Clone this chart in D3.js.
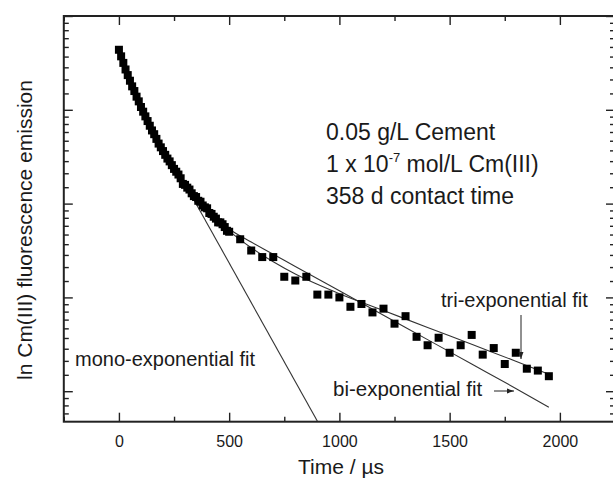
<!DOCTYPE html>
<html>
<head>
<meta charset="utf-8">
<script src="https://cdn.jsdelivr.net/npm/d3@7"></script>
<style>
  html, body { margin: 0; padding: 0; background: #fff; }
  svg { display: block; }
  text { font-family: "Liberation Sans", Arial, Helvetica, sans-serif; fill: #1a1a1a; }
</style>
</head>
<body>
<svg id="chart" width="613" height="479"></svg>
<script>
// Measured decay: time in microseconds, ln of Cm(III) fluorescence intensity
const timeDense = [0,10,20,30,40,50,60,70,80,90,100,110,120,130,140,150,160,170,180,190,
  200,210,220,230,240,250,260,270,280,290,300,310,320,330,340,350,360,370,380,390,
  400,410,420,430,440,450,460,470,480,490,500];
const lnDense = [5.64,5.57,5.50,5.43,5.37,5.31,5.25,5.20,5.14,5.09,5.03,4.98,4.93,4.88,4.83,4.78,4.74,4.69,4.64,4.60,
  4.56,4.52,4.48,4.45,4.41,4.37,4.34,4.31,4.27,4.21,4.20,4.17,4.15,4.11,4.08,4.07,4.03,4.02,3.98,3.96,
  3.95,3.90,3.89,3.86,3.84,3.80,3.80,3.78,3.75,3.71,3.70];
const timeSparse = [550,600,650,700,750,800,850,900,950,1000,1050,1100,1150,1200,1250,1300,1350,
  1400,1450,1500,1550,1600,1650,1700,1750,1800,1850,1900,1950];
const lnSparse = [3.62,3.50,3.43,3.43,3.22,3.18,3.22,3.03,3.03,3.00,2.90,2.93,2.84,2.88,2.72,2.80,2.58,
  2.49,2.57,2.41,2.49,2.60,2.39,2.46,2.29,2.41,2.24,2.22,2.16];

// Fit curves
const monoTime = [300, 905];
const monoLn = [4.21, 1.66];
const biTime = [0,100,200,300,400,500,600,700,800,1000,1200,1400,1600,1800,1950];
const biLn = [5.62,5.02,4.56,4.20,3.93,3.73,3.59,3.46,3.33,3.07,2.81,2.55,2.29,2.03,1.83];
const triTime = [0,100,200,300,400,500,600,700,800,900,1000,1200,1400,1600,1800,1950];
const triLn = [5.63,5.03,4.56,4.20,3.94,3.71,3.53,3.38,3.25,3.14,3.04,2.86,2.68,2.50,2.32,2.18];

// Axis ticks
const xMajor = [0, 500, 1000, 1500, 2000];
const xMinor = [-250, 250, 750, 1250, 1750, 2250];
const xLabels = ["0", "500", "1000", "1500", "2000"];
const lnMajor = [2, 3, 4, 5, 6];

const svg = d3.select("#chart");
const plotL = 63.8, plotR = 615, plotT = 16, plotB = 421.7;

const x = d3.scaleLinear().domain([-250, 2250]).range([plotL, plotR]);
const y = d3.scaleLinear().domain([1.675, 6]).range([plotB, plotT]);

// ln-axis minor ticks: 8 evenly spaced intensity steps between e^n and e^(n+1)
const lnMinor = [];
for (let n = 1; n < 6; n++) {
  const a = Math.exp(n), b = Math.exp(n + 1);
  for (let k = 1; k <= 8; k++) {
    const v = Math.log(a + k * (b - a) / 9);
    if (v >= y.domain()[0] && v <= y.domain()[1]) lnMinor.push(v);
  }
}

const defs = svg.append("defs");
defs.append("clipPath").attr("id", "plotClip")
  .append("rect").attr("x", plotL).attr("y", plotT).attr("width", plotR - plotL).attr("height", plotB - plotT);

const plot = svg.append("g").attr("clip-path", "url(#plotClip)");

const line = d3.line().x(d => x(d[0])).y(d => y(d[1])).curve(d3.curveMonotoneX);
function pairs(ts, vs) { return ts.map((t, i) => [t, vs[i]]); }

[[monoTime, monoLn], [biTime, biLn], [triTime, triLn]].forEach(([ts, vs]) => {
  plot.append("path").datum(pairs(ts, vs))
    .attr("d", line).attr("fill", "none").attr("stroke", "#333").attr("stroke-width", 1.1);
});

const pts = pairs(timeDense, lnDense).concat(pairs(timeSparse, lnSparse));
const s = 8;
plot.selectAll("rect.pt").data(pts).enter().append("rect")
  .attr("class", "pt")
  .attr("x", d => x(d[0]) - s / 2).attr("y", d => y(d[1]) - s / 2)
  .attr("width", s).attr("height", s).attr("fill", "#000");

// Axes with inward ticks on all four sides
function styleAxis(g) {
  g.select(".domain").remove();
  g.selectAll(".tick line").attr("stroke", "#222").attr("stroke-width", 1.4);
}
const axes = svg.append("g");
axes.append("g").attr("transform", `translate(0,${plotB})`)
  .call(d3.axisBottom(x).tickValues(xMajor).tickSize(-9).tickPadding(14).tickFormat((d, i) => xLabels[i]))
  .call(styleAxis)
  .call(g => g.selectAll("text").attr("font-size", 16).attr("fill", "#1a1a1a")
     .style("font-family", '"Liberation Sans", Arial, sans-serif'));
axes.append("g").attr("transform", `translate(0,${plotB})`)
  .call(d3.axisBottom(x).tickValues(xMinor).tickSize(-5).tickFormat(""))
  .call(styleAxis);
axes.append("g").attr("transform", `translate(0,${plotT})`)
  .call(d3.axisTop(x).tickValues(xMajor).tickSize(-9).tickFormat(""))
  .call(styleAxis);
axes.append("g").attr("transform", `translate(0,${plotT})`)
  .call(d3.axisTop(x).tickValues(xMinor).tickSize(-5).tickFormat(""))
  .call(styleAxis);
axes.append("g").attr("transform", `translate(${plotL},0)`)
  .call(d3.axisLeft(y).tickValues(lnMajor).tickSize(-9).tickFormat(""))
  .call(styleAxis);
axes.append("g").attr("transform", `translate(${plotL},0)`)
  .call(d3.axisLeft(y).tickValues(lnMinor).tickSize(-5).tickFormat(""))
  .call(styleAxis);
axes.append("g").attr("transform", `translate(${plotR},0)`)
  .call(d3.axisRight(y).tickValues(lnMajor).tickSize(-9).tickFormat(""))
  .call(styleAxis);
axes.append("g").attr("transform", `translate(${plotR},0)`)
  .call(d3.axisRight(y).tickValues(lnMinor).tickSize(-5).tickFormat(""))
  .call(styleAxis);

svg.append("rect").attr("x", plotL).attr("y", plotT).attr("width", plotR - plotL).attr("height", plotB - plotT)
  .attr("fill", "none").attr("stroke", "#222").attr("stroke-width", 2);

// Axis titles
svg.append("text").attr("x", 341).attr("y", 474).attr("text-anchor", "middle")
  .attr("font-size", 21).text("Time / µs");
svg.append("text").attr("transform", "translate(32,230) rotate(-90)").attr("text-anchor", "middle")
  .attr("font-size", 21).text("ln Cm(III) fluorescence emission");

// Sample description
const info = svg.append("g").attr("font-size", 23);
info.append("text").attr("x", 326).attr("y", 140).text("0.05 g/L Cement");
const l2 = info.append("text").attr("x", 326).attr("y", 172);
l2.append("tspan").text("1 x 10");
l2.append("tspan").attr("font-size", 13).attr("dy", -10).text("-7");
l2.append("tspan").attr("dy", 10).text(" mol/L Cm(III)");
info.append("text").attr("x", 326).attr("y", 204).text("358 d contact time");

// Fit annotations
defs.append("marker").attr("id", "arr").attr("viewBox", "0 0 10 10")
  .attr("refX", 10).attr("refY", 5).attr("markerWidth", 7).attr("markerHeight", 7)
  .attr("orient", "auto-start-reverse")
  .append("path").attr("d", "M0,1.5 L10,5 L0,8.5 Z").attr("fill", "#222");

svg.append("text").attr("x", 75).attr("y", 366).attr("font-size", 20).text("mono-exponential fit");
svg.append("text").attr("x", 333).attr("y", 396).attr("font-size", 20.5).text("bi-exponential fit");
svg.append("line").attr("x1", 494).attr("y1", 391).attr("x2", 514).attr("y2", 391)
  .attr("stroke", "#222").attr("stroke-width", 1).attr("marker-end", "url(#arr)");
svg.append("text").attr("x", 441).attr("y", 307).attr("font-size", 20).text("tri-exponential fit");
svg.append("line").attr("x1", 521).attr("y1", 315).attr("x2", 521).attr("y2", 359)
  .attr("stroke", "#222").attr("stroke-width", 1).attr("marker-end", "url(#arr)");
</script>
</body>
</html>
